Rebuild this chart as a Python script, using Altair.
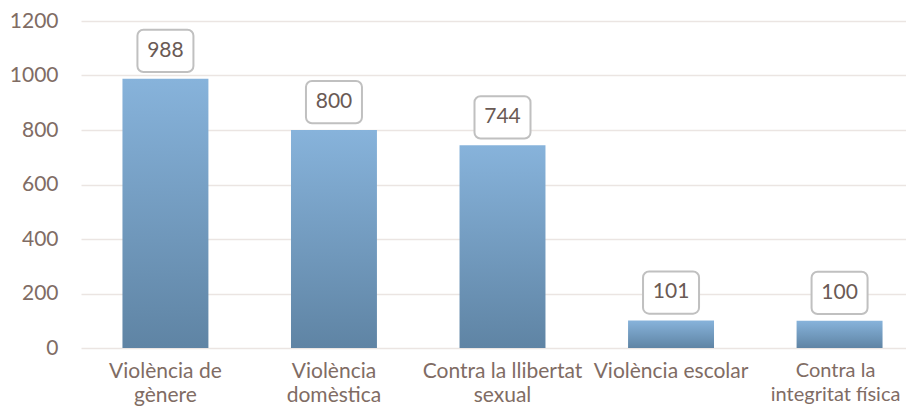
import altair as alt
import pandas as pd

categories = ["Violència de gènere", "Violència domèstica", "Contra la llibertat sexual",
              "Violència escolar", "Contra la integritat física"]
values = [988, 800, 744, 101, 100]
label_lines = [["Violència de", "gènere"], ["Violència", "domèstica"],
               ["Contra la llibertat", "sexual"], ["Violència escolar"],
               ["Contra la", "integritat física"]]
y_ticks = [0, 200, 400, 600, 800, 1000, 1200]

df = pd.DataFrame({"cat": categories, "val": values})

expr = "null"
for c, lines in zip(categories, label_lines):
    arr = "[" + ",".join("'" + l + "'" for l in lines) + "]"
    expr = f"datum.label == '{c}' ? {arr} : ({expr})"

FONT = "Lato"
TXT = "#806c64"
FS = 21
last_test = f"datum.value == '{categories[-1]}'"

x = alt.X("cat:N", sort=categories, title=None,
          scale=alt.Scale(paddingInner=0.49, paddingOuter=0.246, range=[0, 843]),
          axis=alt.Axis(labelAngle=0, labelExpr=expr, labelFont=FONT,
                        labelFontSize={"condition": {"test": last_test, "value": 20}, "value": FS},
                        labelOffset={"condition": {"test": last_test, "value": -4}, "value": 0},
                        labelColor=TXT, labelLineHeight=24, labelPadding=12,
                        ticks=False, domain=False, labelBaseline="top"))
yscale = alt.Scale(domain=[0, 1200], nice=False)

bars = alt.Chart(df).mark_bar(
    color=alt.Gradient(gradient="linear", x1=0, y1=0, x2=0, y2=1,
                       stops=[alt.GradientStop(offset=0, color="#87b3db"),
                              alt.GradientStop(offset=1, color="#5f84a4")])
).encode(
    x=x,
    y=alt.Y("val:Q", scale=yscale, title=None,
            axis=alt.Axis(values=y_ticks, format="d", labelFont=FONT,
                          labelFontSize=FS, labelColor=TXT, labelPadding=23,
                          ticks=False, domain=False, gridColor="#ebe5e2", gridWidth=1.5))
)

boxes = alt.Chart(df).transform_calculate(
    lo="datum.val + 25", hi="datum.val + 180"
).mark_bar(width=56, cornerRadius=6, fill="white", stroke="#c0c0c0", strokeWidth=2).encode(
    x=alt.X("cat:N", sort=categories),
    y=alt.Y("lo:Q", scale=yscale),
    y2="hi:Q",
)

labels = alt.Chart(df).mark_text(font=FONT, fontSize=FS, color="#6a5a55", dy=-28,
                                 baseline="middle").encode(
    x=alt.X("cat:N", sort=categories),
    y=alt.Y("val:Q", scale=yscale),
    text="val:Q",
)

chart = alt.layer(bars, boxes, labels).properties(
    width=825, height=327,
    autosize=alt.AutoSizeParams(type="none"),
    padding={"left": 73, "top": 13, "right": 0, "bottom": 60},
).configure_view(stroke=None)

chart.save("out.html", embed_options={"renderer": "svg", "actions": False})
